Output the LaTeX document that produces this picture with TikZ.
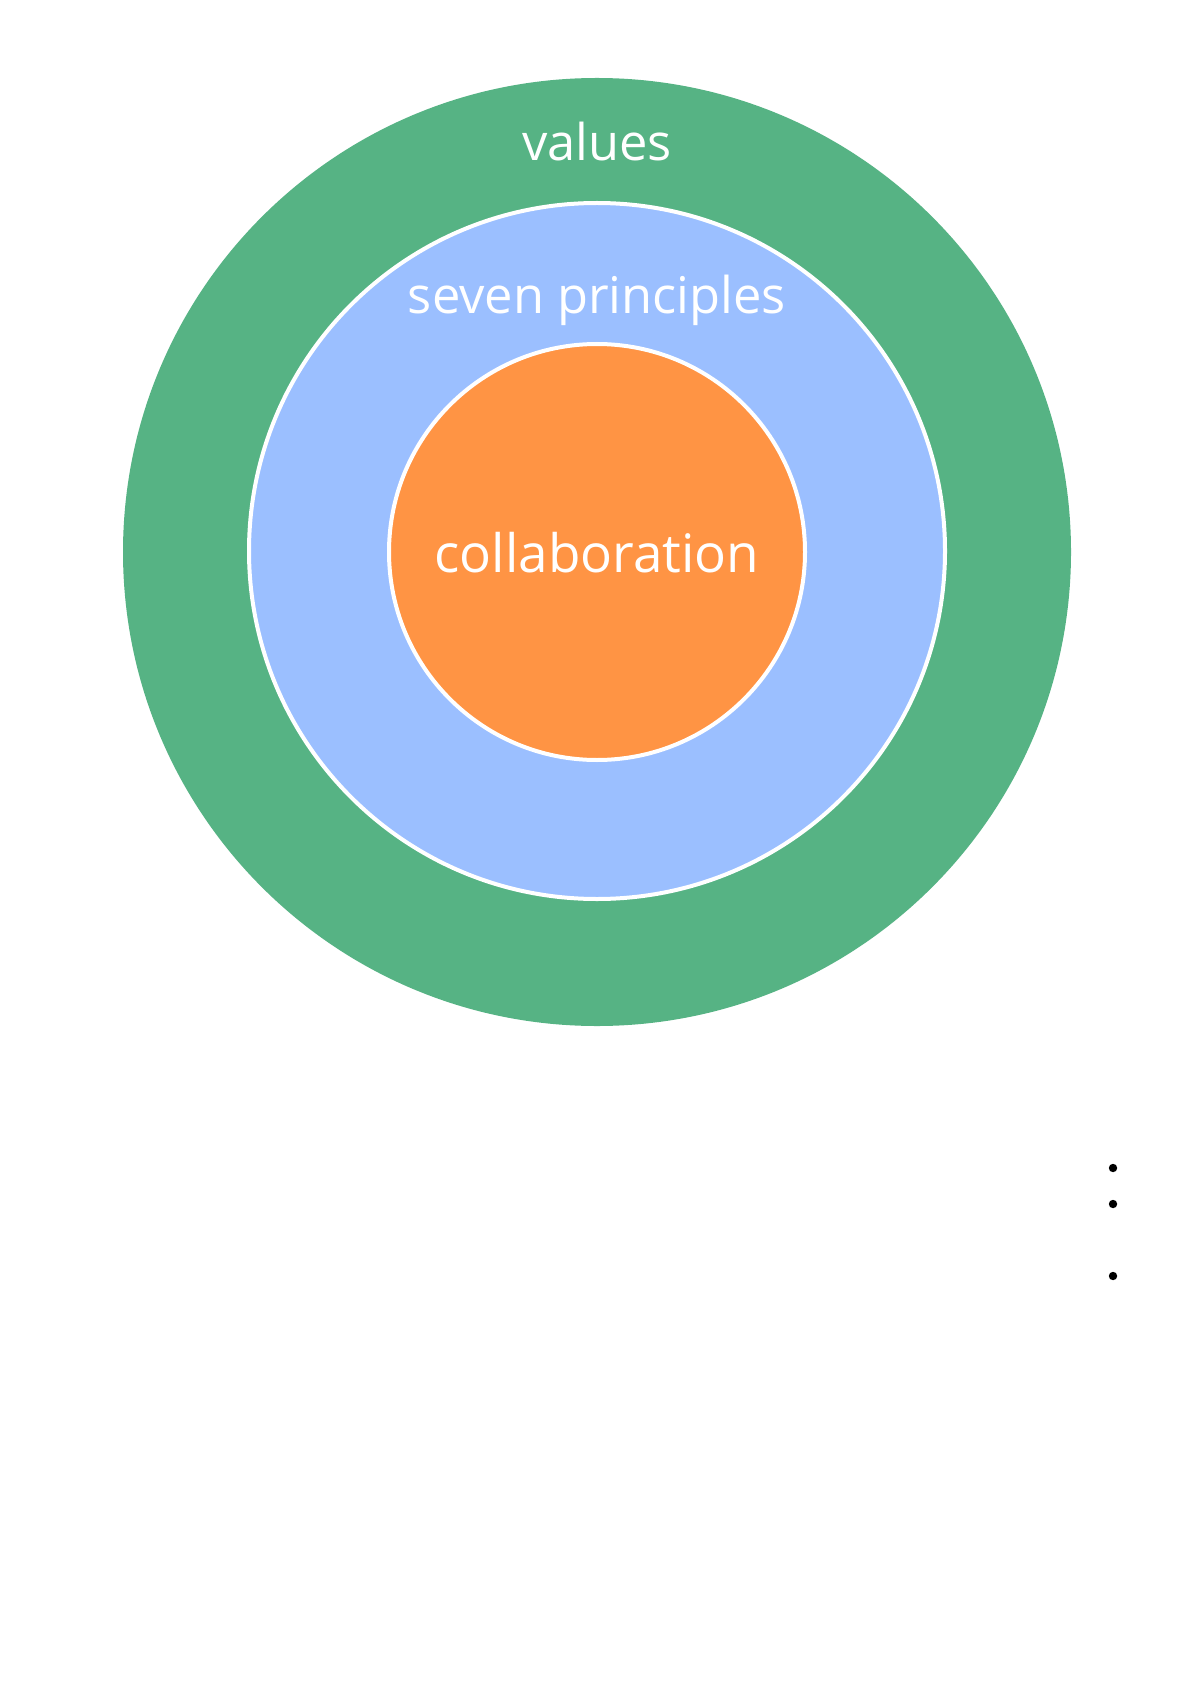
\documentclass[tikz,border=0pt]{standalone}
\usepackage{fontspec}
\setmainfont{Open Sans}
\definecolor{ringgreen}{HTML}{56B384}
\definecolor{ringblue}{HTML}{9BBFFF}
\definecolor{ringorange}{HTML}{FF9444}
\tikzset{
  ring/.style={circle, inner sep=0pt, outer sep=0pt},
  ringborder/.style={draw=white, line width=2pt},
  label/.style={text=white, anchor=base, inner sep=0pt},
  dot/.style={circle, fill=black, inner sep=0pt, minimum size=4.2pt}
}
\begin{document}
\begin{tikzpicture}[x=0.5pt, y=-0.5pt]
\useasboundingbox (0,0) rectangle (1190,1684);
\node[ring, fill=ringgreen, minimum size=474pt] (outer) at (597,552) {};
\node[ring, ringborder, fill=ringblue, minimum size=348pt] (middle) at (597,551) {};
\node[ring, ringborder, fill=ringorange, minimum size=208pt] (inner) at (597,552) {};
\node[label, font=\fontsize{25.3}{30}\selectfont] (values) at (597,161) {values};
\node[label, font=\fontsize{25.3}{30}\selectfont] (principles) at (597,314) {seven principles};
\node[label, font=\fontsize{26.5}{30}\selectfont] (collab) at (597,572) {collaboration};
\node[dot] (d1) at (1113,1168) {};
\node[dot] (d2) at (1113,1204) {};
\node[dot] (d3) at (1113,1276) {};
\end{tikzpicture}
\end{document}
